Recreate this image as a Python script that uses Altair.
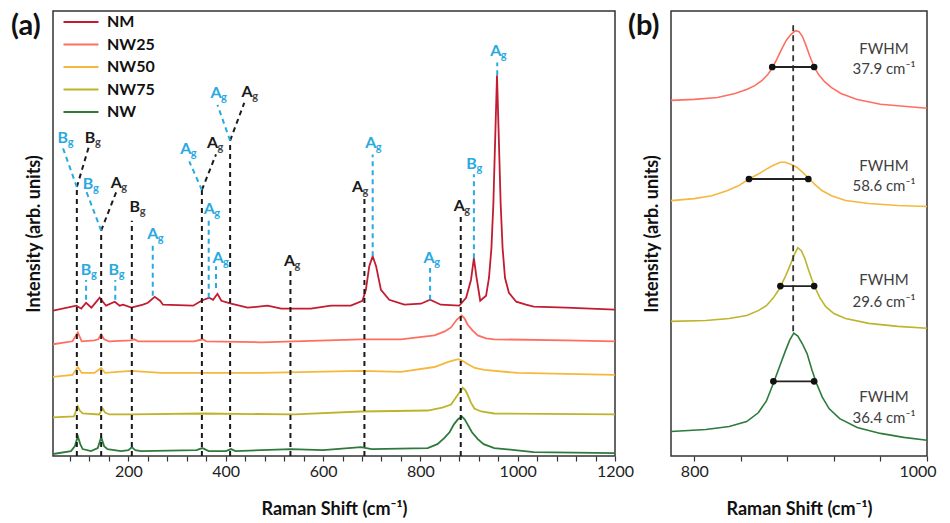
import altair as alt
import pandas as pd

SERIES = ["NM", "NW25", "NW50", "NW75", "NW"]
COLORS = ["#C31B31", "#FF6F61", "#F5B83D", "#BDB42B", "#2E7A3C"]
BLUE = "#29A9E1"
BLACK = "#1A1A1A"
FONT = "Lato"

# ---------- Panel (a): Raman shift (cm-1), stacked intensity (arb. units) ----------
NM = [(45, 147), (93, 152), (103, 149), (113, 155), (124, 150), (141, 160), (154, 152),
      (172, 156), (182, 152), (189, 153), (206, 150), (230, 153), (240, 155), (254, 161),
      (265, 157), (271, 153), (333, 152), (350, 157), (366, 160), (374, 158), (383, 164),
      (391, 157), (411, 154), (445, 150), (486, 152), (514, 149), (575, 149), (616, 152),
      (657, 152), (681, 157), (688, 168), (695, 192), (702, 202), (709, 192), (719, 168),
      (736, 158), (767, 153), (801, 154), (820, 158), (842, 153), (880, 152), (894, 160),
      (904, 178), (910, 200), (915, 182), (923, 157), (935, 162), (941, 180), (946, 210),
      (950, 255), (954, 325), (957.5, 385), (961, 325), (965, 255), (969, 210), (974, 180),
      (982, 165), (997, 156), (1017, 153), (1033, 151), (1100, 150), (1200, 148)]
NW25 = [(45, 113), (85, 116), (96, 125), (104, 116), (130, 117), (138, 118), (144, 123),
        (150, 118), (160, 116), (205, 117), (212, 118), (220, 116), (335, 116), (353, 118),
        (360, 116), (472, 115), (678, 118), (760, 118), (829, 122), (850, 126), (863, 130),
        (875, 138), (885, 142), (891, 139), (897, 133), (907, 127), (918, 122), (935, 119),
        (952, 118), (1100, 117), (1200, 116)]
NW50 = [(45, 80), (85, 82), (96, 90), (104, 84), (130, 84), (144, 89), (152, 84), (205, 86),
        (267, 84), (472, 84), (678, 86), (760, 85), (829, 90), (856, 95), (870, 97), (878, 98),
        (887, 96), (897, 93), (912, 89), (931, 87), (1000, 84), (1200, 82)]
NW75 = [(45, 39), (88, 40), (96, 50), (100, 46), (106, 43), (140, 42), (147, 48), (152, 44),
        (161, 42), (205, 42), (356, 43), (541, 42), (678, 45), (815, 46), (845, 49), (863, 52),
        (877, 62), (883, 66), (887, 69), (892, 67), (897, 62), (904, 54), (911, 48), (925, 45),
        (952, 43), (1200, 42)]
NW = [(45, 2), (82, 5), (90, 10), (96, 20), (101, 12), (106, 7), (123, 5), (137, 8), (144, 19),
      (150, 10), (157, 7), (185, 5), (200, 6), (207, 9), (214, 6), (226, 5), (340, 6), (352, 8),
      (365, 5), (400, 5), (411, 7), (420, 5), (534, 7), (600, 6), (678, 9), (700, 7), (815, 8),
      (835, 12), (849, 18), (860, 24), (869, 32), (877, 37), (885, 40), (891, 37), (897, 32),
      (906, 24), (918, 17), (930, 12), (952, 8), (1033, 4), (1200, 3)]

XA_TICKS = list(range(80, 1201, 40))

# dashed mode markers: (x1, y1, x2, y2)
BLACK_SEG = [(94, 0, 94, 272), (94, 272, 120, 315), (144, 0, 144, 228), (144, 228, 175, 267),
             (207, 0, 207, 238), (351, 0, 351, 269), (351, 269, 380, 305), (409, 0, 409, 319),
             (409, 319, 438, 357), (533, 0, 533, 188), (685, 0, 685, 260), (883, 0, 883, 245)]
BLUE_SEG = [(94, 272, 65, 312), (144, 228, 110, 272), (351, 269, 325, 298), (409, 319, 383, 355),
            (113, 158, 113, 178), (173, 158, 173, 178), (250, 162, 250, 215), (365, 160, 365, 242),
            (380, 170, 380, 192), (702, 202, 702, 305), (820, 158, 820, 190), (910, 200, 910, 285),
            (958, 385, 958, 398)]
# mode labels: (letter, x, y)
BLACK_LAB = [("B", 121, 322), ("A", 175, 276), ("B", 213, 252), ("A", 373, 317), ("A", 444, 368),
             ("A", 531, 197), ("A", 671, 272), ("A", 880, 253)]
BLUE_LAB = [("B", 65, 322), ("B", 117, 275), ("B", 113, 188), ("B", 170, 188), ("A", 250, 225),
            ("A", 318, 310), ("A", 380, 367), ("A", 366, 250), ("A", 384, 200), ("A", 698, 317),
            ("A", 818, 200), ("B", 905, 295), ("A", 955, 410)]

# ---------- Panel (b): zoom on the 880 cm-1 band ----------
B_NW25 = [(780, 362), (800, 363), (820, 365), (835, 369), (845, 373), (852, 377), (858, 382),
          (863, 388), (867, 395), (871, 404), (875, 414), (879, 423), (883, 429), (887, 433),
          (890, 432), (893, 427), (896, 418), (899, 408), (903, 396), (907, 388), (912, 381),
          (918, 375), (926, 369), (940, 363), (960, 358), (980, 356), (1000, 354)]
B_NW50 = [(780, 260), (800, 262), (815, 265), (828, 270), (838, 275), (847, 282), (855, 287),
          (862, 292), (868, 296), (874, 299), (878, 299), (883, 297), (888, 294), (893, 289),
          (898, 283), (904, 276), (910, 270), (918, 265), (930, 260), (950, 257), (975, 255),
          (1000, 254)]
B_NW75 = [(780, 137), (810, 138), (830, 140), (845, 143), (855, 148), (862, 153), (868, 161),
          (873, 170), (878, 182), (882, 193), (886, 205), (889, 212), (892, 209), (895, 201),
          (898, 190), (901, 180), (904, 171), (908, 161), (913, 152), (920, 145), (930, 140),
          (950, 135), (975, 132), (1000, 130)]
B_NW = [(780, 25), (810, 27), (830, 30), (845, 35), (855, 44), (862, 56), (868, 74), (873, 90),
        (878, 106), (882, 118), (885.5, 125), (889, 122), (893, 114), (897, 104), (901, 88),
        (905, 74), (910, 60), (916, 48), (925, 38), (940, 29), (960, 23), (980, 19), (1000, 16)]
XB_TICKS = [800, 840, 880, 920, 960, 1000]
# FWHM bars: (series, left, right, level)
FWHM_BARS = [("NW25", 867, 903, 396), ("NW50", 847, 898, 282), ("NW75", 874, 903, 173),
             ("NW", 868, 903, 76)]
FWHM_VALUES = ["37.9", "58.6", "29.6", "36.4"]
FWHM_TITLE_Y = [414, 295, 179, 60]
FWHM_VALUE_Y = [394, 275, 157, 39]
FWHM_TEXT_X = 963
CENTER_LINE = (885, 127, 439)


def frame(pairs, name):
    return pd.DataFrame({"x": [p[0] for p in pairs], "y": [p[1] for p in pairs], "s": name})


df_a = pd.concat([frame(NM, "NM"), frame(NW25, "NW25"), frame(NW50, "NW50"),
                  frame(NW75, "NW75"), frame(NW, "NW")], ignore_index=True)
df_bseg = pd.DataFrame(BLACK_SEG, columns=["x", "y", "xe", "ye"])
df_lseg = pd.DataFrame(BLUE_SEG, columns=["x", "y", "xe", "ye"])
df_blab = pd.DataFrame(BLACK_LAB, columns=["t", "x", "y"])
df_llab = pd.DataFrame(BLUE_LAB, columns=["t", "x", "y"])

axis_common = dict(labelFont=FONT, titleFont=FONT, labelFontSize=16, titleFontSize=18,
                   titleFontWeight="bold", labelColor="#222", titleColor="#111",
                   tickColor="#333", domain=False, grid=False)

xa = alt.X("x:Q", scale=alt.Scale(domain=[45, 1200], nice=False, zero=False),
           axis=alt.Axis(title="Raman Shift (cm\u207b\u00b9)", values=XA_TICKS, format="d",
                         labelExpr="datum.value % 200 === 0 ? datum.label : ''",
                         tickSize=5, tickWidth=1.2, labelPadding=2, titlePadding=21,
                         labelOverlap=False, labelFlush=False, **axis_common))
ya = alt.Y("y:Q", scale=alt.Scale(domain=[0, 450], nice=False, zero=False),
           axis=alt.Axis(title="Intensity (arb. units)", labels=False, ticks=False,
                         titlePadding=10, **axis_common))

color_a = alt.Color("s:N", scale=alt.Scale(domain=SERIES, range=COLORS),
                    legend=alt.Legend(title=None, orient="none", legendX=20, legendY=3,
                                      symbolType="M-5,0H5", symbolSize=49, symbolStrokeWidth=2.2,
                                      labelFont=FONT, labelFontSize=16, labelFontWeight="bold",
                                      labelColor="#111", labelOffset=18, rowPadding=6.5,
                                      padding=0))

lines_a = alt.Chart(df_a).mark_line(strokeWidth=1.8, clip=True).encode(x=xa, y=ya, color=color_a)
rules_black = alt.Chart(df_bseg).mark_rule(color=BLACK, strokeWidth=2, strokeDash=[5, 4]).encode(
    x=xa, y=ya, x2="xe:Q", y2="ye:Q")
rules_blue = alt.Chart(df_lseg).mark_rule(color=BLUE, strokeWidth=2, strokeDash=[5, 4]).encode(
    x=xa, y=ya, x2="xe:Q", y2="ye:Q")


def labels(df, col, subcol):
    main = alt.Chart(df).mark_text(font=FONT, fontSize=16, fontWeight="bold", align="center",
                                   baseline="middle", color=col).encode(x=xa, y=ya, text="t:N")
    sub = alt.Chart(df).mark_text(font=FONT, fontSize=11, fontWeight="bold", align="left",
                                  baseline="middle", dx=5, dy=5, color=subcol).encode(
        x=xa, y=ya, text=alt.value("g"))
    return [main, sub]


tag_a = alt.Chart(pd.DataFrame({"t": ["(a)"]})).mark_text(
    font=FONT, fontSize=29, fontWeight="bold", align="left", baseline="middle", color="#111"
).encode(x=alt.value(-42), y=alt.value(15), text="t:N")

panel_a = alt.layer(lines_a, rules_black, rules_blue, *labels(df_blab, BLACK, "#444"),
                    *labels(df_llab, BLUE, BLUE), tag_a).properties(width=562, height=445)

# ---------- panel b ----------
df_b = pd.concat([frame(B_NW25, "NW25"), frame(B_NW50, "NW50"), frame(B_NW75, "NW75"),
                  frame(B_NW, "NW")], ignore_index=True)
df_bar = pd.DataFrame(FWHM_BARS, columns=["s", "x", "xe", "y"])
df_dot = pd.concat([df_bar[["x", "y"]], df_bar[["xe", "y"]].rename(columns={"xe": "x"})],
                   ignore_index=True)
df_ft = pd.DataFrame({"x": FWHM_TEXT_X, "y": FWHM_TITLE_Y, "t": "FWHM"})
df_fv = pd.DataFrame({"x": FWHM_TEXT_X, "y": FWHM_VALUE_Y,
                      "t": [v + " cm\u207b\u00b9" for v in FWHM_VALUES]})
df_cl = pd.DataFrame({"x": [CENTER_LINE[0]], "y": [CENTER_LINE[1]], "ye": [CENTER_LINE[2]]})

xb = alt.X("x:Q", scale=alt.Scale(domain=[780, 1000], nice=False, zero=False),
           axis=alt.Axis(title="Raman Shift (cm\u207b\u00b9)", values=XB_TICKS, format="d",
                         labelExpr="datum.value == 800 || datum.value == 1000 ? datum.label : ''",
                         tickSize=5, tickWidth=1.2, labelPadding=2, titlePadding=21,
                         labelOverlap=False, labelFlush=True, labelFlushOffset=9,
                         **axis_common))
yb = alt.Y("y:Q", scale=alt.Scale(domain=[0, 453], nice=False, zero=False),
           axis=alt.Axis(title="Intensity (arb. units)", labels=False, ticks=False,
                         titlePadding=10, **axis_common))

lines_b = alt.Chart(df_b).mark_line(strokeWidth=1.6, clip=True).encode(
    x=xb, y=yb, color=alt.Color("s:N", scale=alt.Scale(domain=SERIES, range=COLORS), legend=None))
center_b = alt.Chart(df_cl).mark_rule(color="#333", strokeWidth=1.8, strokeDash=[6, 4]).encode(
    x=xb, y=yb, y2="ye:Q")
bars_b = alt.Chart(df_bar).mark_rule(color="#222", strokeWidth=1.8).encode(x=xb, x2="xe:Q", y=yb)
dots_b = alt.Chart(df_dot).mark_point(filled=True, color="#111", size=45, opacity=1).encode(
    x=xb, y=yb)
ft_b = alt.Chart(df_ft).mark_text(font=FONT, fontSize=15, color="#404040", align="center",
                                  baseline="middle").encode(x=xb, y=yb, text="t:N")
fv_b = alt.Chart(df_fv).mark_text(font=FONT, fontSize=15, color="#404040", align="center",
                                  baseline="middle").encode(x=xb, y=yb, text="t:N")
tag_b = alt.Chart(pd.DataFrame({"t": ["(b)"]})).mark_text(
    font=FONT, fontSize=29, fontWeight="bold", align="left", baseline="middle", color="#111"
).encode(x=alt.value(-43), y=alt.value(15), text="t:N")

panel_b = alt.layer(lines_b, center_b, bars_b, dots_b, ft_b, fv_b, tag_b).properties(
    width=256, height=445)

chart = alt.hconcat(panel_a, panel_b, spacing=56, bounds="flush").resolve_scale(
    color="independent", x="independent", y="independent"
).resolve_legend(color="independent").properties(
    padding={"left": 2, "top": 2, "right": 0, "bottom": 0}
).configure_view(stroke="#333", strokeWidth=1.5)

chart.save("out.html", embed_options={"renderer": "svg", "actions": False})
